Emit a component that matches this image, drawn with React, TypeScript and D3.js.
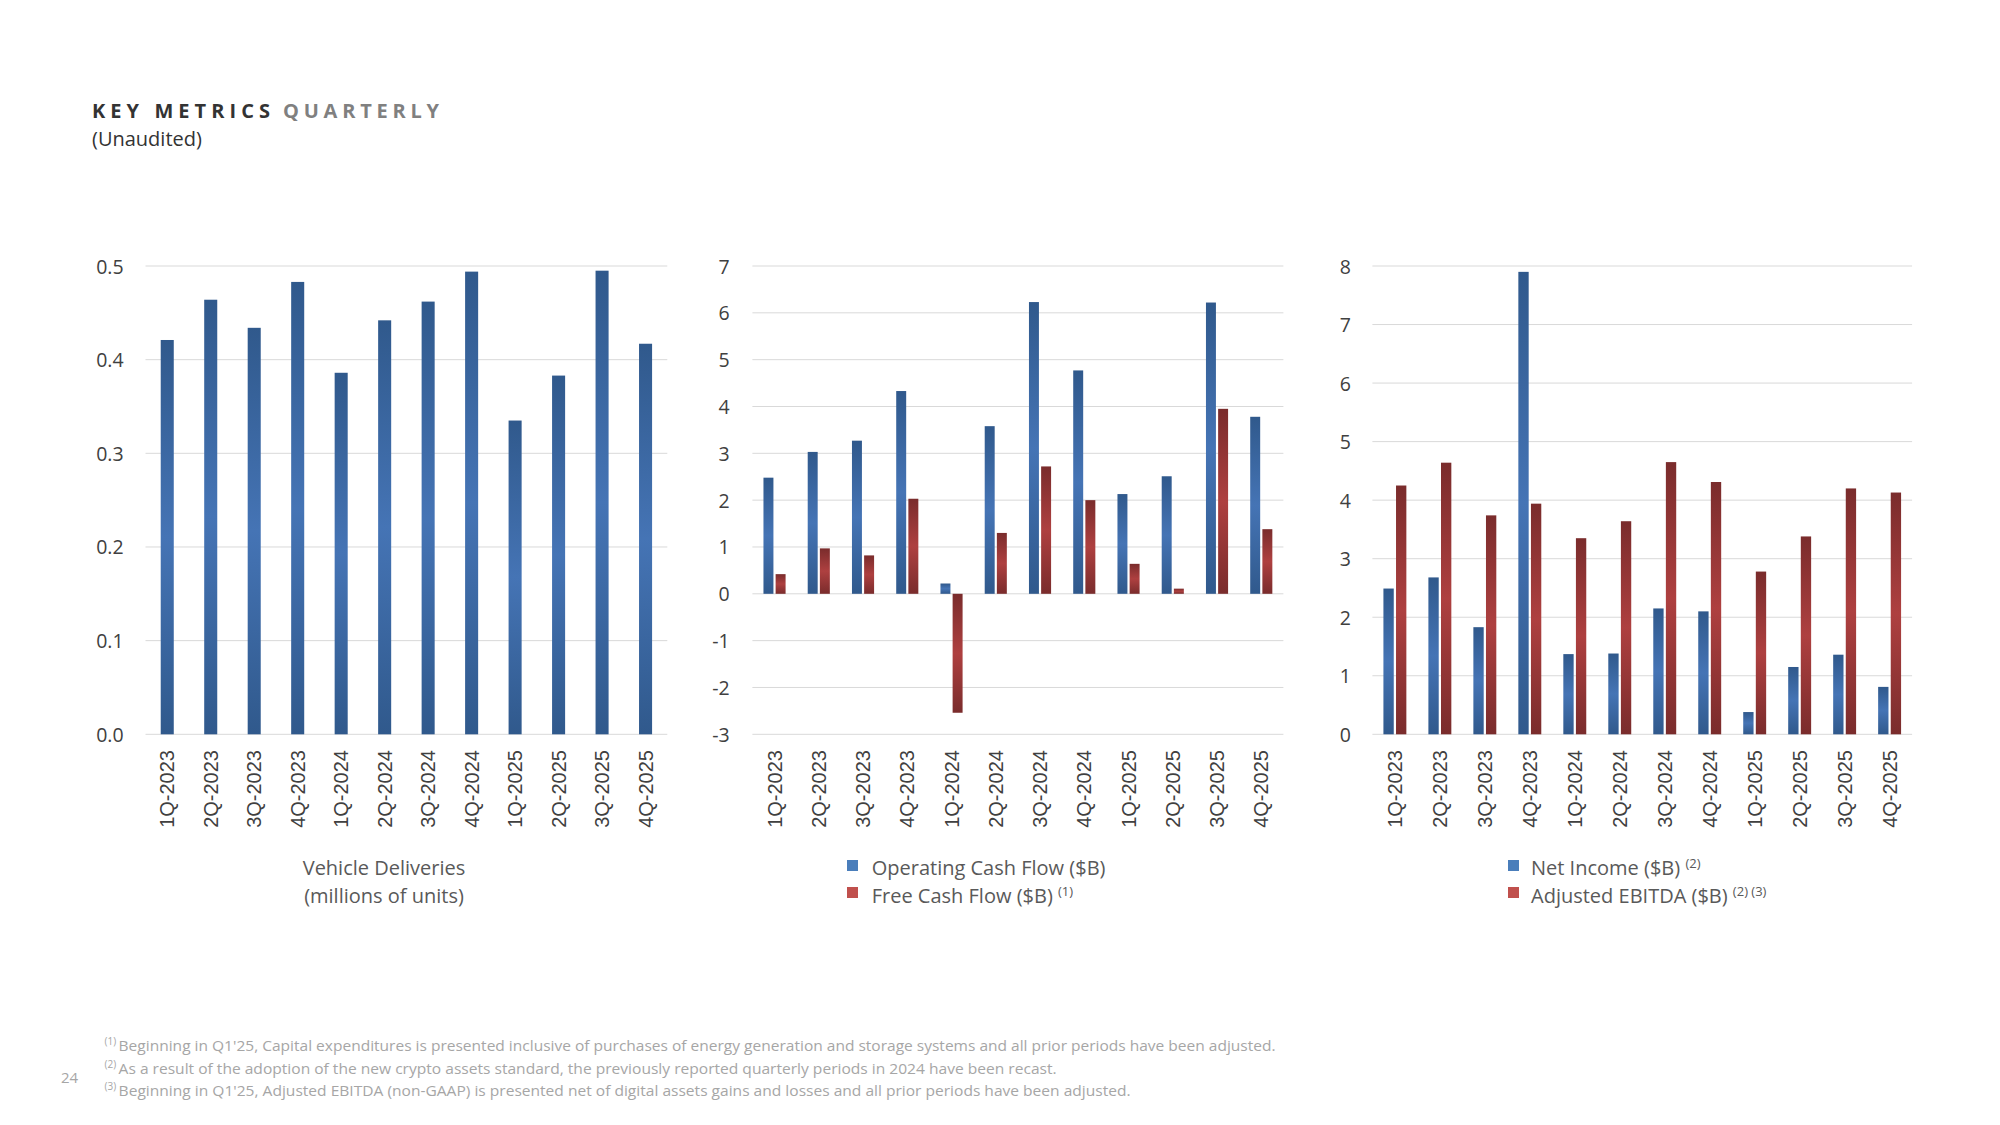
import React from "react";
import * as d3 from "d3";

const quarters = ["1Q-2023", "2Q-2023", "3Q-2023", "4Q-2023", "1Q-2024", "2Q-2024", "3Q-2024", "4Q-2024", "1Q-2025", "2Q-2025", "3Q-2025", "4Q-2025"];
const deliveries = [0.421, 0.464, 0.434, 0.483, 0.386, 0.442, 0.462, 0.494, 0.335, 0.383, 0.495, 0.417];
const operatingCashFlow = [2.48, 3.03, 3.27, 4.33, 0.22, 3.58, 6.23, 4.77, 2.13, 2.51, 6.22, 3.78];
const freeCashFlow = [0.42, 0.97, 0.82, 2.03, -2.54, 1.3, 2.72, 2.0, 0.64, 0.11, 3.95, 1.38];
const netIncome = [2.49, 2.68, 1.83, 7.9, 1.37, 1.38, 2.15, 2.1, 0.38, 1.15, 1.36, 0.81];
const adjustedEbitda = [4.25, 4.64, 3.74, 3.94, 3.35, 3.64, 4.65, 4.31, 2.78, 3.38, 4.2, 4.13];

const ticks1 = [0, 0.1, 0.2, 0.3, 0.4, 0.5];
const ticks2 = [-3, -2, -1, 0, 1, 2, 3, 4, 5, 6, 7];
const ticks3 = [0, 1, 2, 3, 4, 5, 6, 7, 8];

const footnotes = [
  { mark: "(1)", text: "Beginning in Q1'25, Capital expenditures is presented inclusive of purchases of energy generation and storage systems and all prior periods have been adjusted.", w: 1157 },
  { mark: "(2)", text: "As a result of the adoption of the new crypto assets standard, the previously reported quarterly periods in 2024 have been recast.", w: 938 },
  { mark: "(3)", text: "Beginning in Q1'25, Adjusted EBITDA (non-GAAP) is presented net of digital assets gains and losses and all prior periods have been adjusted.", w: 1012 },
];

const FONT = "'Open Sans', sans-serif";
const AXISFONT = "'Liberation Sans', Arial, sans-serif";
const TOP = 266;
const BOTTOM = 734.3;
const GRID = "#d9d9d9";
const TXT = "#404040";

type Series = { values: number[]; fill: string };

function Panel(props: {
  x0: number; x1: number; domain: [number, number]; ticks: number[]; fmt: (v: number) => string;
  labelRight: number; series: Series[]; padding: number; subPad: number;
}) {
  const { x0, x1, domain, ticks, fmt, labelRight, series, padding, subPad } = props;
  const x = d3.scaleBand<string>().domain(quarters).range([x0, x1]).paddingInner(padding).paddingOuter(padding / 2);
  const y = d3.scaleLinear().domain(domain).range([BOTTOM, TOP]);
  const sub = d3.scaleBand<number>().domain(series.map((_, i) => i)).range([0, x.bandwidth()]).paddingInner(subPad);
  return (
    <g>
      {ticks.map((t) => (
        <g key={t}>
          <line x1={x0} x2={x1} y1={y(t)} y2={y(t)} stroke={GRID} strokeWidth={1} />
          <text x={labelRight} y={y(t)} textAnchor="end" dominantBaseline="central" fontFamily={FONT} fontSize={19.5} fill={TXT}>{fmt(t)}</text>
        </g>
      ))}
      {series.map((s, si) =>
        s.values.map((v, i) => {
          const bx = (x(quarters[i]) as number) + (series.length > 1 ? (sub(si) as number) : 0);
          const bw = series.length > 1 ? sub.bandwidth() : x.bandwidth();
          const y0 = y(Math.max(0, v));
          const h = Math.abs(y(v) - y(0));
          return <rect key={si + "-" + i} x={bx} y={y0} width={bw} height={h} fill={s.fill} />;
        })
      )}
      {quarters.map((q) => {
        const cx = (x(q) as number) + x.bandwidth() / 2;
        return (
          <text key={q} transform={`translate(${cx},750) rotate(-90)`} textAnchor="end" dominantBaseline="central" fontFamily={AXISFONT} fontSize={20} fill={TXT}>{q}</text>
        );
      })}
    </g>
  );
}

export default function App() {
  const LF = 20;
  return (
    <svg width={2000} height={1125} style={{ position: "absolute", left: 0, top: 0, background: "#fff" }}>
      <defs>
        <linearGradient id="gBlue" x1="0" y1="0" x2="0" y2="1">
          <stop offset="0" stopColor="#30598c" />
          <stop offset="0.5" stopColor="#4574b5" />
          <stop offset="1" stopColor="#30598c" />
        </linearGradient>
        <linearGradient id="gRed" x1="0" y1="0" x2="0" y2="1">
          <stop offset="0" stopColor="#7a2c2c" />
          <stop offset="0.5" stopColor="#ae4040" />
          <stop offset="1" stopColor="#7a2c2c" />
        </linearGradient>
      </defs>

      <text x={92} y={117.7} fontFamily={FONT} fontWeight={700} fontSize={20} fill="#333" textLength={178} lengthAdjust="spacing">KEY METRICS</text>
      <text x={283} y={117.7} fontFamily={FONT} fontWeight={700} fontSize={20} fill="#808080" textLength={156} lengthAdjust="spacing">QUARTERLY</text>
      <text x={92} y={146} fontFamily={FONT} fontSize={20} fill="#333">(Unaudited)</text>

      <Panel x0={145.5} x1={667.3} domain={[0, 0.5]} ticks={ticks1} fmt={d3.format(".1f")} labelRight={123.6}
        series={[{ values: deliveries, fill: "url(#gBlue)" }]} padding={0.7} subPad={0} />
      <Panel x0={752.4} x1={1283.4} domain={[-3, 7]} ticks={ticks2} fmt={(v) => String(v)} labelRight={729.7}
        series={[{ values: operatingCashFlow, fill: "url(#gBlue)" }, { values: freeCashFlow, fill: "url(#gRed)" }]} padding={0.5} subPad={0.18} />
      <Panel x0={1372.4} x1={1912.1} domain={[0, 8]} ticks={ticks3} fmt={(v) => String(v)} labelRight={1351}
        series={[{ values: netIncome, fill: "url(#gBlue)" }, { values: adjustedEbitda, fill: "url(#gRed)" }]} padding={0.49} subPad={0.18} />

      <text x={384} y={875} textAnchor="middle" fontFamily={FONT} fontSize={LF} fill="#595959">Vehicle Deliveries</text>
      <text x={384} y={903} textAnchor="middle" fontFamily={FONT} fontSize={LF} fill="#595959">(millions of units)</text>

      <rect x={847} y={860} width={11} height={11} fill="#4a7ebb" />
      <text x={871.7} y={875} fontFamily={FONT} fontSize={LF} fill="#595959">Operating Cash Flow ($B)</text>
      <rect x={847} y={887} width={11} height={11} fill="#c0504d" />
      <text x={871.7} y={903} fontFamily={FONT} fontSize={LF} fill="#595959">Free Cash Flow ($B) <tspan fontSize={13} dy={-7}>(1)</tspan></text>

      <rect x={1508} y={860} width={11} height={11} fill="#4a7ebb" />
      <text x={1531} y={875} fontFamily={FONT} fontSize={LF} fill="#595959">Net Income ($B) <tspan fontSize={13} dy={-7}>(2)</tspan></text>
      <rect x={1508} y={887} width={11} height={11} fill="#c0504d" />
      <text x={1531} y={903} fontFamily={FONT} fontSize={LF} fill="#595959">Adjusted EBITDA ($B) <tspan fontSize={13} dy={-7}>(2)</tspan><tspan fontSize={13}> (3)</tspan></text>

      <text x={61} y={1083} fontFamily={FONT} fontSize={15} fill="#a6a6a6">24</text>
      {footnotes.map((f, i) => (
        <g key={f.mark}>
          <text x={104.6} y={1045 + i * 22.5} fontFamily={FONT} fontSize={10} fill="#a6a6a6">{f.mark}</text>
          <text x={118.6} y={1051 + i * 22.5} fontFamily={FONT} fontSize={15} fill="#a6a6a6" textLength={f.w} lengthAdjust="spacingAndGlyphs">{f.text}</text>
        </g>
      ))}
    </svg>
  );
}
